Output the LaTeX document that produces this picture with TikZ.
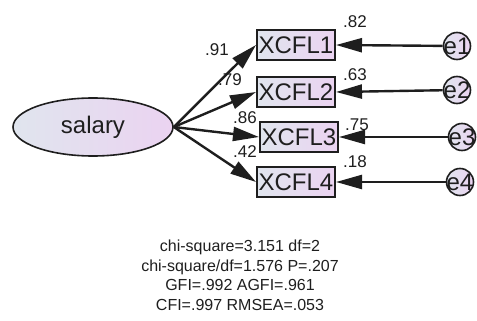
\documentclass[tikz,border=0pt]{standalone}
\usepackage{fontspec}
\setmainfont{Liberation Sans}
\usetikzlibrary{arrows.meta, shapes.geometric}
\definecolor{shadeLeft}{HTML}{E0E5EE}
\definecolor{shadeRight}{HTML}{EBD3F1}
\definecolor{inkColor}{HTML}{1E1E1E}

\begin{document}
\begin{tikzpicture}[x=1pt, y=-1pt,
    latent/.style={ellipse, draw=inkColor, line width=1.6pt, left color=shadeLeft, right color=shadeRight,
        minimum width=160pt, minimum height=58pt, inner sep=0pt, text=inkColor, font=\fontsize{24}{24}\selectfont},
    observed/.style={rectangle, draw=inkColor, line width=2pt, left color=shadeLeft, right color=shadeRight,
        minimum width=78pt, minimum height=30pt, inner sep=0pt, text=inkColor, font=\fontsize{24}{24}\selectfont},
    errvar/.style={circle, draw=inkColor, line width=1.6pt, left color=shadeLeft, right color=shadeRight,
        minimum size=27pt, inner sep=0pt},
    errtext/.style={text=inkColor, inner sep=0pt, font=\fontsize{24}{24}\selectfont},
    regpath/.style={draw=inkColor, line width=2.4pt, -{Triangle[length=26pt,width=14pt]}},
    coef/.style={text=inkColor, inner sep=0pt, font=\fontsize{17}{17}\selectfont}]
    \useasboundingbox (0,0) rectangle (477,321);

    % latent factor
    \node[latent] (salary) at (93,127) {salary};

    % indicators and their error terms
    \foreach \i/\bx/\by/\ex/\ey in {1/296/45/457/46, 2/296/92/457/90, 3/299/137/462/137, 4/296/182/460/182} {
        \node[observed] (x\i) at (\bx,\by) {XCFL\i};
        \node[errvar] (e\i) at (\ex,\ey) {};
        \node[errtext] at (e\i) {e\i};
        \draw[regpath] (salary.east) -- (x\i.west);
        \draw[regpath] (e\i) -- (x\i.east);
    }

    % standardized loadings
    \node[coef] (l1) at (217,50) {.91};
    \node[coef] (l2) at (230,80) {.79};
    \node[coef] (l3) at (245,118) {.86};
    \node[coef] (l4) at (245,152) {.42};

    % squared multiple correlations
    \node[coef] (r1) at (355,22) {.82};
    \node[coef] (r2) at (355,75) {.63};
    \node[coef] (r3) at (357,125) {.75};
    \node[coef] (r4) at (355,162) {.18};

    % fit indices
    \node[text=inkColor, align=center, inner sep=0pt, anchor=north, font=\fontsize{16}{19.5}\selectfont] (fit) at (240,240)
        {chi-square=3.151 df=2\\chi-square/df=1.576 P=.207\\GFI=.992 AGFI=.961\\CFI=.997 RMSEA=.053};
\end{tikzpicture}
\end{document}
